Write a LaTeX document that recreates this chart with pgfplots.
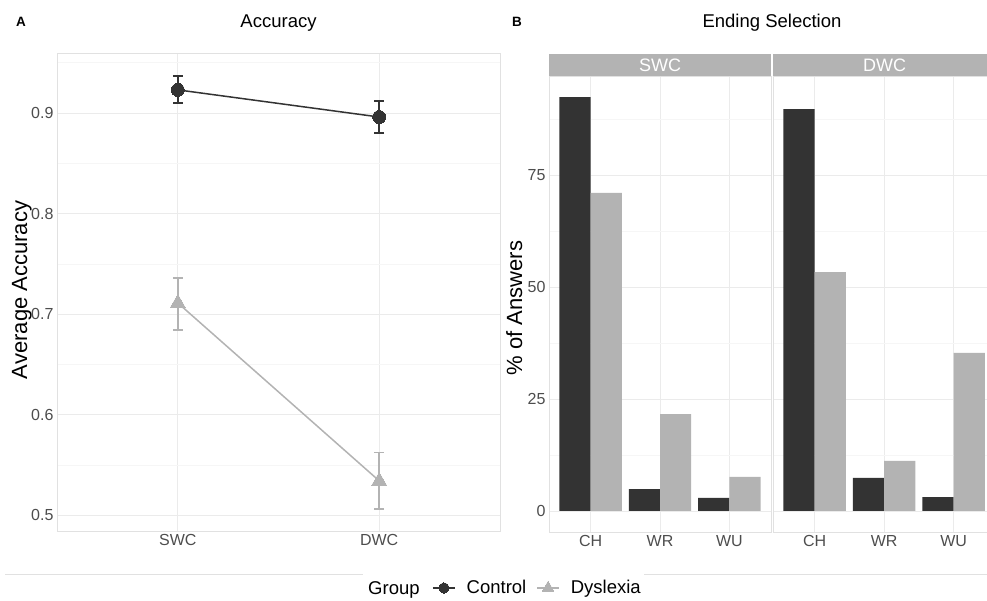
\documentclass[border=0pt]{standalone}
\usepackage{pgfplots}
\pgfplotsset{compat=1.18}
\usepackage{fontspec}
\setmainfont{Liberation Sans}
\definecolor{ctrl}{RGB}{51,51,51}
\definecolor{dys}{RGB}{179,179,179}
\definecolor{tickgray}{RGB}{77,77,77}
\definecolor{gridmaj}{RGB}{235,235,235}
\definecolor{gridmin}{RGB}{246,246,246}
\definecolor{bordergray}{RGB}{225,225,225}
\definecolor{stripgray}{RGB}{179,179,179}
\pgfplotsset{
  gg/.style={
    scale only axis,
    axis line style={draw=bordergray, line width=0.7pt},
    major tick length=0pt, minor tick length=0pt,
    grid=both,
    major grid style={draw=gridmaj, line width=0.8pt},
    minor grid style={draw=gridmin, line width=0.5pt},
    tick label style={font=\fontsize{16}{19}\selectfont, text=tickgray},
    /pgf/number format/assume math mode=true,
  }
}
\begin{document}
\begin{tikzpicture}
\path[use as bounding box] (0pt,0pt) rectangle (987pt,601pt);

% Panel A
\begin{axis}[gg, at={(57pt,70pt)}, anchor=south west, width=443pt, height=478pt,
  xmin=0.4, xmax=2.6, ymin=0.4841, ymax=0.9597,
  xtick={1,2}, xticklabels={SWC,DWC},
  ytick={0.5,0.6,0.7,0.8,0.9}, minor ytick={0.55,0.65,0.75,0.85,0.95},
  yticklabel style={/pgf/number format/.cd, fixed, fixed zerofill, precision=1},
  legend columns=-1,
  legend style={at={(0.8465,-0.1192)}, anchor=west, draw=none, fill=none, inner sep=0pt,
    font=\fontsize{18.5}{22}\selectfont,
    /tikz/every odd column/.append style={column sep=9pt},
    /tikz/every even column/.append style={column sep=8pt}},
  legend image code/.code={\draw[mark repeat=2,mark phase=2,#1, every mark/.append style={scale=0.8}] plot coordinates {(0pt,0pt) (11pt,0pt) (22pt,0pt)};},
]
\addplot[ctrl, line width=1.5pt, mark=*, mark size=6.5pt,
  mark options={solid, fill=ctrl, draw=ctrl, line width=0pt},
  error bars/.cd, y dir=both, y explicit, error mark=|,
  error bar style={line width=1.4pt, draw=ctrl},
  error mark options={mark size=5pt, line width=1.4pt, draw=ctrl}]
  coordinates {(1,0.923) += (0,0.014) -= (0,0.013) (2,0.896) += (0,0.016) -= (0,0.016)};
\addlegendentry{Control}
\addplot[dys, line width=1.5pt, mark=triangle*, mark size=8.5pt,
  mark options={solid, fill=dys, draw=dys, line width=0pt},
  error bars/.cd, y dir=both, y explicit, error mark=|,
  error bar style={line width=1.4pt, draw=dys},
  error mark options={mark size=5pt, line width=1.4pt, draw=dys}]
  coordinates {(1,0.711) += (0,0.025) -= (0,0.027) (2,0.534) += (0,0.028) -= (0,0.028)};
\addlegendentry{Dyslexia}
\end{axis}

% Panel B, facet SWC
\begin{axis}[gg, at={(549pt,69pt)}, anchor=south west, width=222pt, height=456pt,
  xmin=0.4, xmax=3.6, ymin=-4.69, ymax=97.1,
  xtick={1,2,3}, xticklabels={CH,WR,WU},
  ytick={0,25,50,75}, minor ytick={12.5,37.5,62.5,87.5},
]
\addplot[ybar, bar width=0.45, bar shift=-0.225, fill=ctrl, draw=none]
  coordinates {(1,92.4) (2,4.9) (3,2.9)};
\addplot[ybar, bar width=0.45, bar shift=0.225, fill=dys, draw=none]
  coordinates {(1,71.0) (2,21.6) (3,7.6)};
\end{axis}

% Panel B, facet DWC
\begin{axis}[gg, at={(773pt,69pt)}, anchor=south west, width=214pt, height=456pt,
  xmin=0.4, xmax=3.479, ymin=-4.69, ymax=97.1,
  xtick={1,2,3}, xticklabels={CH,WR,WU},
  ytick={0,25,50,75}, yticklabels={}, minor ytick={12.5,37.5,62.5,87.5},
]
\addplot[ybar, bar width=0.45, bar shift=-0.225, fill=ctrl, draw=none]
  coordinates {(1,89.7) (2,7.4) (3,3.1)};
\addplot[ybar, bar width=0.45, bar shift=0.225, fill=dys, draw=none]
  coordinates {(1,53.3) (2,11.2) (3,35.3)};
\end{axis}

% strips
\fill[stripgray] (549pt,525pt) rectangle (771pt,547pt);
\fill[stripgray] (773pt,525pt) rectangle (987pt,547pt);
\node[text=white, font=\fontsize{18}{21}\selectfont] at (660pt,536pt) {SWC};
\node[text=white, font=\fontsize{18}{21}\selectfont] at (884.5pt,536pt) {DWC};

% titles
\node[anchor=base, font=\fontsize{18.5}{22}\selectfont] at (278.5pt,573.5pt) {Accuracy};
\node[anchor=base, font=\fontsize{18.5}{22}\selectfont] at (772pt,573.5pt) {Ending Selection};
\node[anchor=base, font=\bfseries\fontsize{13.5}{16}\selectfont] at (21pt,574pt) {A};
\node[anchor=base, font=\bfseries\fontsize{13.5}{16}\selectfont] at (517pt,574pt) {B};

% axis titles
\node[rotate=90, anchor=base, font=\fontsize{22}{26}\selectfont] at (27pt,311pt) {Average Accuracy};
\node[rotate=90, anchor=base, font=\fontsize{22}{26}\selectfont] at (522pt,293pt) {\% of Answers};

% legend area
\draw[bordergray, line width=0.8pt] (5pt,27pt) -- (363pt,27pt);
\draw[bordergray, line width=0.8pt] (644pt,27pt) -- (987pt,27pt);
\node[anchor=base west, inner sep=0pt, font=\fontsize{18.5}{22}\selectfont] at (368pt,6.5pt) {Group};
\end{tikzpicture}
\end{document}
